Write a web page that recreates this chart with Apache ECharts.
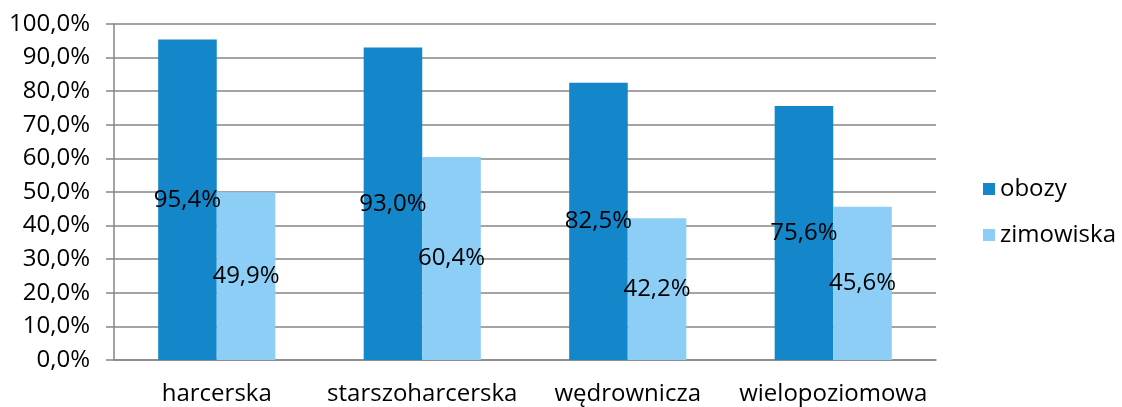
<!DOCTYPE html>
<html>
<head>
<meta charset="utf-8">
<script src="https://cdn.jsdelivr.net/npm/echarts@6/dist/echarts.min.js"></script>
<style>
  html, body { margin: 0; padding: 0; background: #fff; }
  #chart { width: 1122px; height: 407px; }
</style>
</head>
<body>
<div id="chart"></div>
<script>
// dane z wykresu
const categories = ['harcerska', 'starszoharcerska', 'wędrownicza', 'wielopoziomowa'];
const obozy = [95.4, 93.0, 82.5, 75.6];
const zimowiska = [49.9, 60.4, 42.2, 45.6];

const fmt = v => v.toFixed(1).replace('.', ',') + '%';
const font = '"Open Sans", sans-serif';

const chart = echarts.init(document.getElementById('chart'));
chart.setOption({
  animation: false,
  textStyle: { fontFamily: font },
  grid: { left: 114, right: 186, top: 24, bottom: 47 },
  legend: {
    orient: 'vertical',
    left: 978,
    top: 172,
    itemWidth: 12,
    itemHeight: 12,
    itemGap: 22,
    icon: 'rect',
    textStyle: { fontSize: 24, color: '#000', fontFamily: font, lineHeight: 24 },
    data: ['obozy', 'zimowiska']
  },
  xAxis: {
    type: 'category',
    data: categories,
    axisLine: { lineStyle: { color: '#868686', width: 1.5 } },
    axisTick: { length: 8, lineStyle: { color: '#868686', width: 1.5 } },
    axisLabel: { fontSize: 24, color: '#000', margin: 22, interval: 0, fontFamily: font }
  },
  yAxis: {
    type: 'value',
    min: 0,
    max: 100,
    interval: 10,
    axisLine: { show: true, lineStyle: { color: '#868686', width: 1.5 } },
    axisTick: { show: true, length: 8, lineStyle: { color: '#868686', width: 1.5 } },
    splitLine: { lineStyle: { color: '#868686', width: 1.5 } },
    axisLabel: { fontSize: 24, color: '#000', margin: 24, fontFamily: font, formatter: fmt }
  },
  series: [
    {
      name: 'obozy',
      type: 'bar',
      data: obozy,
      barWidth: '28.5%',
      barGap: '0%',
      itemStyle: { color: '#1487CA' },
      label: { show: true, position: 'inside', fontSize: 24, color: '#000', fontFamily: font, formatter: p => fmt(p.value) }
    },
    {
      name: 'zimowiska',
      type: 'bar',
      data: zimowiska,
      barWidth: '28.5%',
      itemStyle: { color: '#8CCEF5' },
      label: { show: true, position: 'inside', fontSize: 24, color: '#000', fontFamily: font, formatter: p => fmt(p.value) }
    }
  ]
});
</script>
</body>
</html>
